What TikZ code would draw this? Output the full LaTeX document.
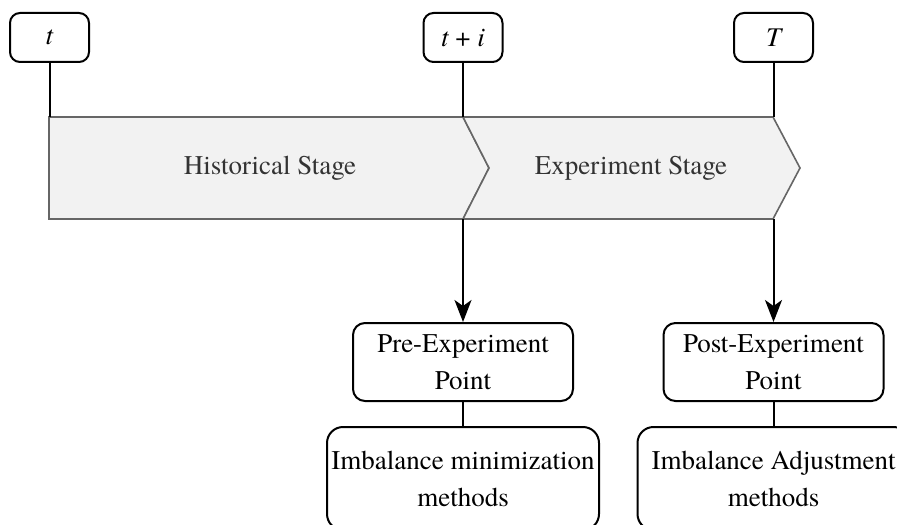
\documentclass[tikz,border=0pt]{standalone}
\usepackage{fontspec}
\setmainfont{texgyretermes}[Extension=.otf, UprightFont=*-regular, ItalicFont=*-italic, BoldFont=*-bold]
\usepackage{tikz}
\usetikzlibrary{shapes,arrows,positioning,calc,arrows.meta}

\definecolor{stagefill}{HTML}{F2F2F2}
\definecolor{stageline}{HTML}{666666}
\definecolor{stagetext}{HTML}{333333}

\begin{document}
\begin{tikzpicture}[x=0.5pt, y=-0.5pt,
    font=\fontsize{13.5}{18.5}\selectfont,
    timebox/.style={draw, line width=1pt, rounded corners=5pt, minimum width=39.5pt, minimum height=24.5pt, inner sep=0pt},
    pointbox/.style={draw, line width=1pt, rounded corners=6pt, minimum width=110pt, minimum height=39pt, align=center, inner sep=0pt},
    methodbox/.style={draw, line width=1pt, rounded corners=8pt, minimum width=136pt, minimum height=51.5pt, align=center, inner sep=0pt},
    stage/.style={fill=stagefill, draw=stageline, line width=0.8pt, line join=miter},
    link/.style={line width=1pt, -{Stealth[length=11pt, width=8.5pt, inset=3pt]}}]
    \useasboundingbox (0,0) rectangle (897,524);
    \clip (0,0) rectangle (897,524);

    % Stages
    \draw[stage] (49,117) -- (463,117) -- (489,168) -- (463,219) -- (49,219) -- cycle;
    \draw[stage] (463,117) -- (773,117) -- (800,168) -- (773,219) -- (463,219) -- (489,168) -- cycle;
    \node[text=stagetext] (hist) at (270,168) {Historical Stage};
    \node[text=stagetext] (expe) at (631,168) {Experiment Stage};

    % Time points
    \node[timebox] (t0) at (49.5,37.5) {\itshape t};
    \node[timebox] (ti) at (463,37.5) {{\itshape t} + {\itshape i}};
    \node[timebox] (tT) at (773.5,37.5) {\itshape T};
    \coordinate (t0top) at (49.5,117);
    \coordinate (titop) at (463,117);
    \coordinate (tTtop) at (773.5,117);
    \coordinate (tibot) at (463,219);
    \coordinate (tTbot) at (773.5,219);
    \draw[line width=1pt] (t0) -- (t0top);
    \draw[line width=1pt] (ti) -- (titop);
    \draw[line width=1pt] (tT) -- (tTtop);

    % Points and methods
    \node[pointbox] (pre) at (463,362) {Pre-Experiment\\Point};
    \node[pointbox] (post) at (773.5,362) {Post-Experiment\\Point};
    \node[methodbox] (mini) at (463,478.5) {Imbalance minimization\\methods};
    \node[methodbox] (adju) at (773.5,478.5) {Imbalance Adjustment\\methods};
    \draw[link] (tibot) -- (pre);
    \draw[link] (tTbot) -- (post);
    \draw[line width=1pt] (pre) -- (mini);
    \draw[line width=1pt] (post) -- (adju);
\end{tikzpicture}
\end{document}
